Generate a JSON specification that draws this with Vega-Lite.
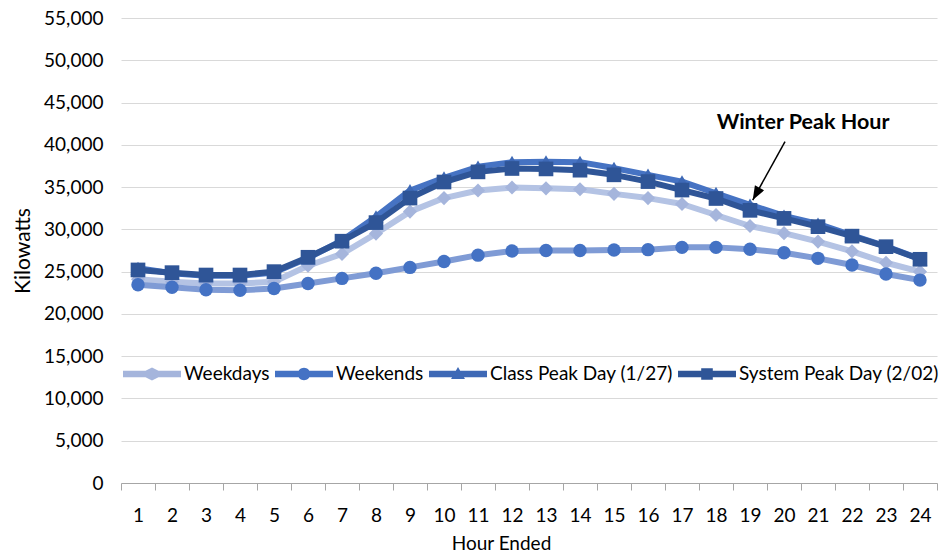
{
  "$schema": "https://vega.github.io/schema/vega-lite/v6.json",
  "width": 816,
  "height": 465,
  "autosize": {"type": "none"},
  "padding": {"left": 121, "top": 18, "right": 11, "bottom": 71},
  "background": "white",
  "config": {"view": {"stroke": null}, "font": "Lato"},
  "datasets": {
    "load": [
      {"hour": 1, "series": "Weekdays", "kw": 24100}, {"hour": 2, "series": "Weekdays", "kw": 23800}, {"hour": 3, "series": "Weekdays", "kw": 23600}, {"hour": 4, "series": "Weekdays", "kw": 23600}, {"hour": 5, "series": "Weekdays", "kw": 23800}, {"hour": 6, "series": "Weekdays", "kw": 25700}, {"hour": 7, "series": "Weekdays", "kw": 27100}, {"hour": 8, "series": "Weekdays", "kw": 29500}, {"hour": 9, "series": "Weekdays", "kw": 32100}, {"hour": 10, "series": "Weekdays", "kw": 33700}, {"hour": 11, "series": "Weekdays", "kw": 34600}, {"hour": 12, "series": "Weekdays", "kw": 34950}, {"hour": 13, "series": "Weekdays", "kw": 34850}, {"hour": 14, "series": "Weekdays", "kw": 34750}, {"hour": 15, "series": "Weekdays", "kw": 34200}, {"hour": 16, "series": "Weekdays", "kw": 33700}, {"hour": 17, "series": "Weekdays", "kw": 33000}, {"hour": 18, "series": "Weekdays", "kw": 31700}, {"hour": 19, "series": "Weekdays", "kw": 30400}, {"hour": 20, "series": "Weekdays", "kw": 29550}, {"hour": 21, "series": "Weekdays", "kw": 28550}, {"hour": 22, "series": "Weekdays", "kw": 27400}, {"hour": 23, "series": "Weekdays", "kw": 26050}, {"hour": 24, "series": "Weekdays", "kw": 25000},
      {"hour": 1, "series": "Weekends", "kw": 23450}, {"hour": 2, "series": "Weekends", "kw": 23150}, {"hour": 3, "series": "Weekends", "kw": 22850}, {"hour": 4, "series": "Weekends", "kw": 22800}, {"hour": 5, "series": "Weekends", "kw": 23000}, {"hour": 6, "series": "Weekends", "kw": 23600}, {"hour": 7, "series": "Weekends", "kw": 24200}, {"hour": 8, "series": "Weekends", "kw": 24800}, {"hour": 9, "series": "Weekends", "kw": 25500}, {"hour": 10, "series": "Weekends", "kw": 26200}, {"hour": 11, "series": "Weekends", "kw": 26950}, {"hour": 12, "series": "Weekends", "kw": 27450}, {"hour": 13, "series": "Weekends", "kw": 27500}, {"hour": 14, "series": "Weekends", "kw": 27500}, {"hour": 15, "series": "Weekends", "kw": 27550}, {"hour": 16, "series": "Weekends", "kw": 27600}, {"hour": 17, "series": "Weekends", "kw": 27870}, {"hour": 18, "series": "Weekends", "kw": 27870}, {"hour": 19, "series": "Weekends", "kw": 27650}, {"hour": 20, "series": "Weekends", "kw": 27240}, {"hour": 21, "series": "Weekends", "kw": 26570}, {"hour": 22, "series": "Weekends", "kw": 25780}, {"hour": 23, "series": "Weekends", "kw": 24720}, {"hour": 24, "series": "Weekends", "kw": 24000},
      {"hour": 1, "series": "Class Peak Day (1/27)", "kw": 25400}, {"hour": 2, "series": "Class Peak Day (1/27)", "kw": 24800}, {"hour": 3, "series": "Class Peak Day (1/27)", "kw": 24500}, {"hour": 4, "series": "Class Peak Day (1/27)", "kw": 24500}, {"hour": 5, "series": "Class Peak Day (1/27)", "kw": 24900}, {"hour": 6, "series": "Class Peak Day (1/27)", "kw": 26600}, {"hour": 7, "series": "Class Peak Day (1/27)", "kw": 28700}, {"hour": 8, "series": "Class Peak Day (1/27)", "kw": 31500}, {"hour": 9, "series": "Class Peak Day (1/27)", "kw": 34600}, {"hour": 10, "series": "Class Peak Day (1/27)", "kw": 36100}, {"hour": 11, "series": "Class Peak Day (1/27)", "kw": 37400}, {"hour": 12, "series": "Class Peak Day (1/27)", "kw": 37950}, {"hour": 13, "series": "Class Peak Day (1/27)", "kw": 38000}, {"hour": 14, "series": "Class Peak Day (1/27)", "kw": 37950}, {"hour": 15, "series": "Class Peak Day (1/27)", "kw": 37250}, {"hour": 16, "series": "Class Peak Day (1/27)", "kw": 36450}, {"hour": 17, "series": "Class Peak Day (1/27)", "kw": 35650}, {"hour": 18, "series": "Class Peak Day (1/27)", "kw": 34270}, {"hour": 19, "series": "Class Peak Day (1/27)", "kw": 32900}, {"hour": 20, "series": "Class Peak Day (1/27)", "kw": 31600}, {"hour": 21, "series": "Class Peak Day (1/27)", "kw": 30650}, {"hour": 22, "series": "Class Peak Day (1/27)", "kw": 29300}, {"hour": 23, "series": "Class Peak Day (1/27)", "kw": 28000}, {"hour": 24, "series": "Class Peak Day (1/27)", "kw": 26500},
      {"hour": 1, "series": "System Peak Day (2/02)", "kw": 25200}, {"hour": 2, "series": "System Peak Day (2/02)", "kw": 24880}, {"hour": 3, "series": "System Peak Day (2/02)", "kw": 24600}, {"hour": 4, "series": "System Peak Day (2/02)", "kw": 24600}, {"hour": 5, "series": "System Peak Day (2/02)", "kw": 25000}, {"hour": 6, "series": "System Peak Day (2/02)", "kw": 26700}, {"hour": 7, "series": "System Peak Day (2/02)", "kw": 28600}, {"hour": 8, "series": "System Peak Day (2/02)", "kw": 30800}, {"hour": 9, "series": "System Peak Day (2/02)", "kw": 33700}, {"hour": 10, "series": "System Peak Day (2/02)", "kw": 35600}, {"hour": 11, "series": "System Peak Day (2/02)", "kw": 36800}, {"hour": 12, "series": "System Peak Day (2/02)", "kw": 37200}, {"hour": 13, "series": "System Peak Day (2/02)", "kw": 37150}, {"hour": 14, "series": "System Peak Day (2/02)", "kw": 37000}, {"hour": 15, "series": "System Peak Day (2/02)", "kw": 36450}, {"hour": 16, "series": "System Peak Day (2/02)", "kw": 35650}, {"hour": 17, "series": "System Peak Day (2/02)", "kw": 34650}, {"hour": 18, "series": "System Peak Day (2/02)", "kw": 33650}, {"hour": 19, "series": "System Peak Day (2/02)", "kw": 32250}, {"hour": 20, "series": "System Peak Day (2/02)", "kw": 31300}, {"hour": 21, "series": "System Peak Day (2/02)", "kw": 30320}, {"hour": 22, "series": "System Peak Day (2/02)", "kw": 29200}, {"hour": 23, "series": "System Peak Day (2/02)", "kw": 27950}, {"hour": 24, "series": "System Peak Day (2/02)", "kw": 26460}
    ],
    "note": [{"label": "Winter Peak Hour", "hour": 20.56, "kw": 42580}],
    "arrow": [{"hour": 19.08, "kw": 33470, "hour2": 20.03, "kw2": 40370}]
  },
  "encoding": {
    "x": {
      "field": "hour", "type": "quantitative", "title": "Hour Ended",
      "scale": {"domain": [0.5, 24.5], "nice": false, "zero": false},
      "axis": {
        "values": [0.5, 1, 1.5, 2, 2.5, 3, 3.5, 4, 4.5, 5, 5.5, 6, 6.5, 7, 7.5, 8, 8.5, 9, 9.5, 10, 10.5, 11, 11.5, 12, 12.5, 13, 13.5, 14, 14.5, 15, 15.5, 16, 16.5, 17, 17.5, 18, 18.5, 19, 19.5, 20, 20.5, 21, 21.5, 22, 22.5, 23, 23.5, 24, 24.5],
        "labelExpr": "datum.value % 1 === 0 ? format(datum.value, '.0f') : ''",
        "labelOverlap": false, "labelFlush": false, "labelBound": false,
        "grid": false, "domain": true, "domainColor": "#a6a6a6", "domainWidth": 1,
        "ticks": true, "tickSize": 7, "tickWidth": 1,
        "tickColor": {"condition": {"test": "datum.value % 1 === 0", "value": "transparent"}, "value": "#a6a6a6"},
        "labelPadding": 16, "labelFontSize": 19, "labelColor": "#000000", "labelFont": "Lato",
        "titleFontSize": 19, "titleFontWeight": "normal", "titleColor": "#000000", "titleFont": "Lato",
        "titlePadding": 9, "titleX": 380, "titleAnchor": "middle"
      }
    },
    "y": {
      "field": "kw", "type": "quantitative", "title": "Kilowatts",
      "scale": {"domain": [0, 55000], "nice": false},
      "axis": {
        "values": [0, 5000, 10000, 15000, 20000, 25000, 30000, 35000, 40000, 45000, 50000, 55000],
        "format": ",.0f", "grid": true, "gridColor": "#d9d9d9", "gridWidth": 1,
        "domain": false, "ticks": false, "labelPadding": 18, "labelFontSize": 19, "labelColor": "#000000", "labelFont": "Lato",
        "titleFontSize": 21, "titleFontWeight": "normal", "titleColor": "#000000", "titleFont": "Lato", "titlePadding": 10
      }
    }
  },
  "layer": [
    {
      "data": {"name": "load"},
      "transform": [{"filter": "datum.series === 'Weekdays'"}],
      "mark": {"type": "line", "strokeWidth": 6, "strokeJoin": "round", "strokeCap": "round"},
      "encoding": {
        "stroke": {
          "field": "series", "type": "nominal",
          "scale": {"domain": ["Weekdays", "Weekends", "Class Peak Day (1/27)", "System Peak Day (2/02)"], "range": ["#b4c3e4", "#7f9bd5", "#4673c3", "#2f5597"]},
          "legend": {
            "orient": "none", "legendX": 2, "legendY": 327, "direction": "horizontal", "title": null, "padding": 0,
            "symbolSize": 3364, "symbolStrokeWidth": 0, "labelOffset": 3, "columnPadding": 5, "labelLimit": 400,
            "labelFontSize": 19, "labelFont": "Lato", "labelColor": "#000000",
            "encode": {
              "symbols": {
                "update": {
                  "shape": {"signal": "datum.value === 'Weekdays' ? 'M-1,-0.11H-0.224L0,-0.224L0.224,-0.11H1V0.11H0.224L0,0.224L-0.224,0.11H-1Z' : datum.value === 'Weekends' ? 'M-1,-0.11H1V0.11H-1Z M-0.215,0A0.215,0.215,0,1,1,0.215,0A0.215,0.215,0,1,1,-0.215,0Z' : datum.value === 'Class Peak Day (1/27)' ? 'M-1,-0.11H1V0.11H-1Z M0,-0.24L0.24,0.17L-0.24,0.17Z' : 'M-1,-0.11H1V0.11H-1Z M-0.2,-0.2H0.2V0.2H-0.2Z'"},
                  "fill": {"signal": "{gradient: 'linear', x1: 0, y1: 0, x2: 1, y2: 0, stops: [{offset: 0, color: scale('stroke', datum.value)}, {offset: 0.38, color: scale('stroke', datum.value)}, {offset: 0.381, color: scale('fill', datum.value)}, {offset: 0.619, color: scale('fill', datum.value)}, {offset: 0.62, color: scale('stroke', datum.value)}, {offset: 1, color: scale('stroke', datum.value)}]}"},
                  "stroke": {"value": "transparent"},
                  "strokeWidth": {"value": 0},
                  "opacity": {"value": 1}
                }
              }
            }
          }
        }
      }
    },
    {
      "data": {"name": "load"},
      "transform": [{"filter": "datum.series === 'Weekdays'"}],
      "mark": {"type": "point", "shape": "diamond", "size": 200, "filled": true, "opacity": 1},
      "encoding": {
        "fill": {
          "field": "series", "type": "nominal",
          "scale": {"domain": ["Weekdays", "Weekends", "Class Peak Day (1/27)", "System Peak Day (2/02)"], "range": ["#a5b5dc", "#4472c4", "#3e69b6", "#2f5597"]},
          "legend": null
        }
      }
    },
    {
      "data": {"name": "load"},
      "transform": [{"filter": "datum.series === 'Weekends'"}],
      "mark": {"type": "line", "strokeWidth": 6, "strokeJoin": "round", "strokeCap": "round"},
      "encoding": {"stroke": {"field": "series", "type": "nominal"}}
    },
    {
      "data": {"name": "load"},
      "transform": [{"filter": "datum.series === 'Weekends'"}],
      "mark": {"type": "point", "shape": "circle", "size": 180, "filled": true, "opacity": 1},
      "encoding": {"fill": {"field": "series", "type": "nominal", "legend": null}}
    },
    {
      "data": {"name": "load"},
      "transform": [{"filter": "datum.series === 'Class Peak Day (1/27)'"}],
      "mark": {"type": "line", "strokeWidth": 6, "strokeJoin": "round", "strokeCap": "round"},
      "encoding": {"stroke": {"field": "series", "type": "nominal"}}
    },
    {
      "data": {"name": "load"},
      "transform": [{"filter": "datum.series === 'Class Peak Day (1/27)'"}],
      "mark": {"type": "point", "shape": "triangle-up", "size": 220, "filled": true, "opacity": 1},
      "encoding": {"fill": {"field": "series", "type": "nominal", "legend": null}}
    },
    {
      "data": {"name": "load"},
      "transform": [{"filter": "datum.series === 'System Peak Day (2/02)'"}],
      "mark": {"type": "line", "strokeWidth": 6, "strokeJoin": "round", "strokeCap": "round"},
      "encoding": {"stroke": {"field": "series", "type": "nominal"}}
    },
    {
      "data": {"name": "load"},
      "transform": [{"filter": "datum.series === 'System Peak Day (2/02)'"}],
      "mark": {"type": "point", "shape": "square", "size": 215, "filled": true, "opacity": 1},
      "encoding": {"fill": {"field": "series", "type": "nominal", "legend": null}}
    },
    {
      "data": {"name": "arrow"},
      "mark": {"type": "rule", "color": "#000000", "strokeWidth": 1.5},
      "encoding": {"x2": {"field": "hour2"}, "y2": {"field": "kw2"}}
    },
    {
      "data": {"name": "arrow"},
      "mark": {"type": "point", "shape": "M0,0L-0.75,-2L0.75,-2Z", "size": 196, "angle": 29, "filled": true, "color": "#000000", "opacity": 1},
      "encoding": {}
    },
    {
      "data": {"name": "note"},
      "mark": {"type": "text", "font": "Lato", "fontWeight": "bold", "fontSize": 21.5, "color": "#000000", "align": "center", "baseline": "middle"},
      "encoding": {"text": {"field": "label"}}
    }
  ]
}
